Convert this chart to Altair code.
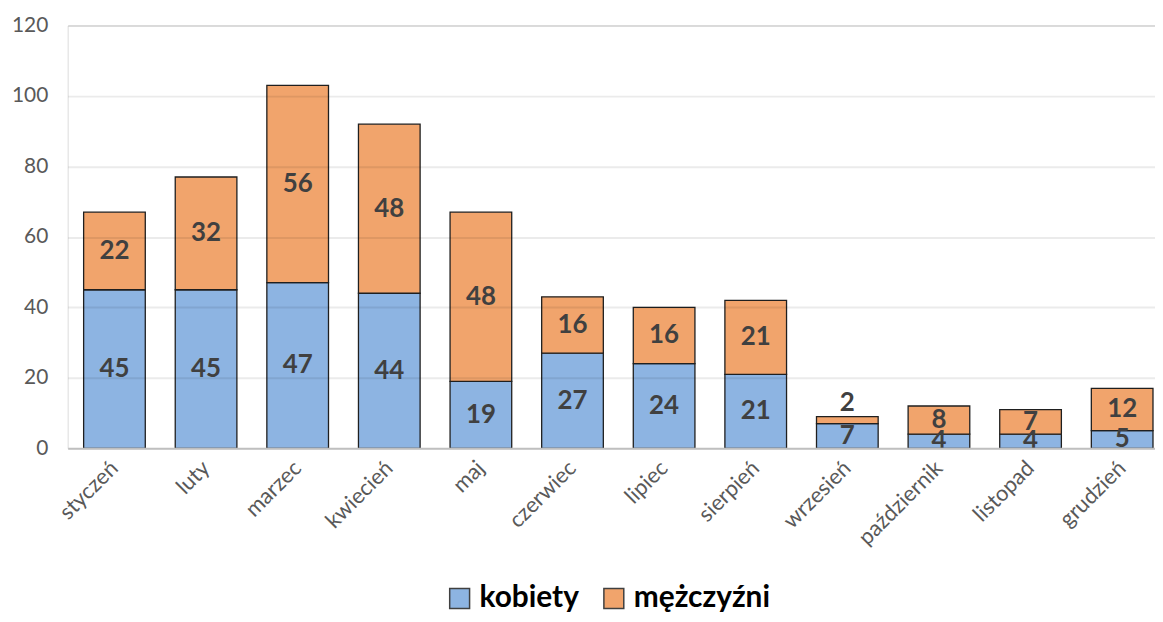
import altair as alt
import pandas as pd

months = ["styczeń", "luty", "marzec", "kwiecień", "maj", "czerwiec", "lipiec",
          "sierpień", "wrzesień", "październik", "listopad", "grudzień"]
kobiety = [45, 45, 47, 44, 19, 27, 24, 21, 7, 4, 4, 5]
mezczyzni = [22, 32, 56, 48, 48, 16, 16, 21, 2, 8, 7, 12]
series = ["kobiety", "mężczyźni"]
colors = ["#8DB4E2", "#F1A46C"]

rows = []
for i, m in enumerate(months):
    rows.append({"month": m, "series": series[0], "value": kobiety[i], "ord": 0})
    rows.append({"month": m, "series": series[1], "value": mezczyzni[i], "ord": 1})
df = pd.DataFrame(rows)

FONT = "Lato"

x = alt.X("month:N", sort=months, title=None,
          scale=alt.Scale(paddingInner=0.327, paddingOuter=0.174, range=[0, 1107]),
          axis=alt.Axis(labelAngle=-45, labelAlign="right", labelBaseline="middle",
                        labelFontSize=22, labelColor="#595959", labelFont=FONT,
                        labelPadding=16, ticks=False, domain=False, grid=False))

base = alt.Chart(df)

bars = base.mark_bar(stroke="#1F1F1F", strokeWidth=1.3).encode(
    x=x,
    y=alt.Y("sum(value):Q", stack="zero", title=None,
            scale=alt.Scale(domain=[0, 120]),
            axis=alt.Axis(values=[0, 20, 40, 60, 80, 100, 120], labelFontSize=21,
                          labelColor="#595959", labelFont=FONT, labelPadding=20,
                          ticks=False, domain=False,
                          gridColor={"condition": {"test": "datum.value === 0", "value": "#BFBFBF"},
                                     "value": "#000000"},
                          gridOpacity={"condition": {"test": "datum.value === 0", "value": 1},
                                       "value": 0.08},
                          gridWidth=2, zindex=1)),
    color=alt.Color("series:N", sort=series,
                    scale=alt.Scale(domain=series, range=colors),
                    legend=alt.Legend(title=None, orient="none", direction="horizontal",
                                      legendX=379, legendY=561,
                                      symbolType="square", symbolSize=400,
                                      symbolStrokeColor="#404040", symbolStrokeWidth=1.5,
                                      labelFontSize=30, labelFontWeight="bold",
                                      labelFont=FONT, labelColor="#000000",
                                      columnPadding=20, labelOffset=5)),
    order=alt.Order("ord:Q"),
)

stacked = base.transform_stack(
    stack="value", groupby=["month"], as_=["y0", "y1"],
    sort=[alt.SortField("ord", order="ascending")]
).transform_calculate(mid="(datum.y0 + datum.y1) / 2")

labels_mid = stacked.transform_filter("datum.value >= 3").mark_text(
    fontSize=26, fontWeight="bold", color="#404040", font=FONT, baseline="middle"
).encode(x=alt.X("month:N", sort=months), y=alt.Y("mid:Q"), text="value:Q")

labels_top = stacked.transform_filter("datum.value < 3").mark_text(
    fontSize=26, fontWeight="bold", color="#404040", font=FONT,
    baseline="alphabetic", dy=-6
).encode(x=alt.X("month:N", sort=months), y=alt.Y("y1:Q"), text="value:Q")

chart = alt.layer(bars, labels_mid, labels_top).properties(
    width=1093, height=425,
    autosize=alt.AutoSizeParams(type="none"),
    padding={"top": 16, "left": 60, "right": 0, "bottom": 165}
).configure_view(stroke=None).configure(font=FONT)

chart.save("out.html", embed_options={"renderer": "svg", "actions": False})
